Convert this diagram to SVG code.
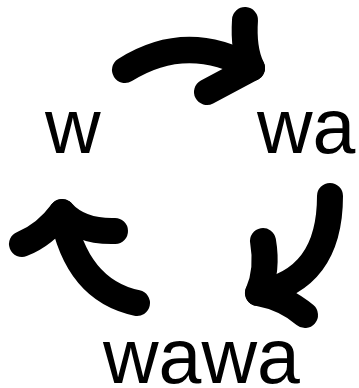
<svg xmlns="http://www.w3.org/2000/svg" width="359" height="388" viewBox="0 0 359 388">
<style>
.lbl{font-family:"Liberation Sans",Arial,sans-serif;font-size:77px;fill:#000}
.arr{fill:none;stroke:#000;stroke-width:26;stroke-linecap:round;stroke-linejoin:round}
</style>
<rect width="359" height="388" fill="#fff"/>
<g id="node-w"><text class="lbl" x="45" y="153">w</text></g>
<g id="node-wa"><text class="lbl" x="257" y="153">wa</text></g>
<g id="node-wawa"><text class="lbl" x="103" y="383">wawa</text></g>
<g id="connectors">
<g id="edge-w-wa">
<path class="arr" d="M125,70 Q187,31 252,68"/>
<path class="arr" d="M245,20 Q243,50 252,68 L207,92"/>
</g>
<g id="edge-wa-wawa">
<path class="arr" d="M330,196 Q330,280 258,293"/>
<path class="arr" d="M263,241 Q268,270 258,293 Q285,298 305,315"/>
</g>
<g id="edge-wawa-w">
<path class="arr" d="M137,303 Q76,290 62,212"/>
<path class="arr" d="M22,244 Q45,235 62,212 Q80,232 115,231"/>
</g>
</g>
</svg>
